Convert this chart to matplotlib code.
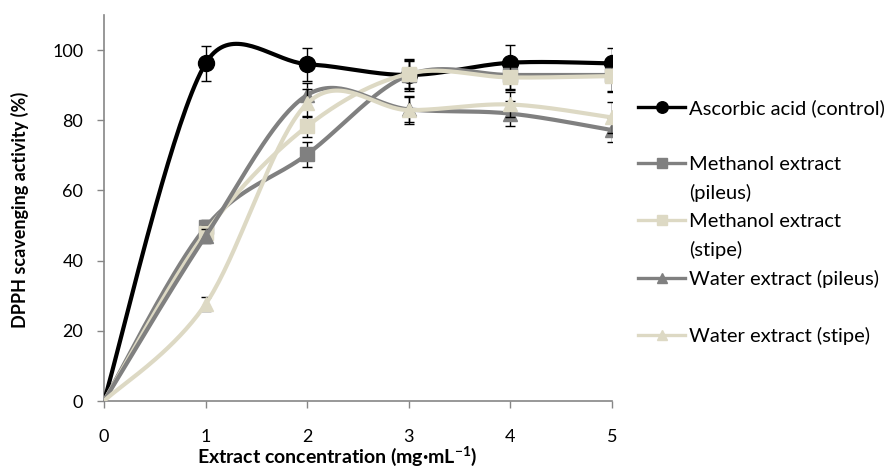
import numpy as np
import matplotlib
matplotlib.use("Agg")
import matplotlib.pyplot as plt
from matplotlib.lines import Line2D

plt.rcParams['font.family'] = ['Lato', 'DejaVu Sans']
plt.rcParams['mathtext.fontset'] = 'custom'
plt.rcParams['mathtext.rm'] = 'Lato'
plt.rcParams['mathtext.bf'] = 'Lato:bold'

# ---------------- data ----------------
conc = [0, 1, 2, 3, 4, 5]
ascorbic = [0, 96.2, 96.0, 92.9, 96.4, 96.2]
meoh_pileus = [0, 49.5, 70.3, 92.9, 92.9, 92.9]
meoh_stipe = [0, 48.0, 78.3, 93.3, 92.2, 92.6]
water_pileus = [0, 47.0, 87.2, 83.1, 81.9, 77.2]
water_stipe = [0, 27.6, 84.8, 82.9, 84.5, 80.8]

err_ascorbic = [0, 5.0, 4.7, 4.5, 5.0, 4.5]
err_meoh_pileus = [0, 2.0, 3.5, 4.0, 4.0, 4.5]
err_meoh_stipe = [0, 2.0, 3.0, 4.0, 3.5, 4.5]
err_water_pileus = [0, 2.0, 3.5, 3.5, 3.5, 3.5]
err_water_stipe = [0, 2.0, 4.0, 4.0, 3.5, 4.5]

labels = ['Ascorbic acid (control)', 'Methanol extract\n(pileus)',
          'Methanol extract\n(stipe)', 'Water extract (pileus)',
          'Water extract (stipe)']
x_ticks = [0, 1, 2, 3, 4, 5]
y_ticks = [0, 20, 40, 60, 80, 100]

GRAY = '#808080'
BEIGE = '#DDD9C4'
series = [
    (ascorbic, err_ascorbic, 'black', 'o', 11.5),
    (meoh_pileus, err_meoh_pileus, GRAY, 's', 10),
    (meoh_stipe, err_meoh_stipe, BEIGE, 's', 10),
    (water_pileus, err_water_pileus, GRAY, '^', 10.5),
    (water_stipe, err_water_stipe, BEIGE, '^', 10.5),
]


def smooth(ax, xs, ys, n=40):
    """Excel-like smoothed line: Bezier with Catmull-Rom arms, limited to half
    the segment length in screen space."""
    P = ax.transData.transform(np.column_stack([xs, ys]).astype(float))
    out = []
    t = np.linspace(0, 1, n)[:, None]
    for i in range(len(P) - 1):
        p0 = P[i - 1] if i > 0 else P[i]
        p1 = P[i]
        p2 = P[i + 1]
        p3 = P[i + 2] if i + 2 < len(P) else P[i + 1]
        d12 = np.linalg.norm(p2 - p1)
        a1 = (p2 - p0) / 6.0
        a2 = (p3 - p1) / 6.0
        for a in (a1, a2):
            la = np.linalg.norm(a)
            if la > d12 / 2 and la > 0:
                a *= (d12 / 2) / la
        c1 = p1 + a1
        c2 = p2 - a2
        seg = ((1 - t) ** 3) * p1 + 3 * ((1 - t) ** 2) * t * c1 + 3 * (1 - t) * t ** 2 * c2 + t ** 3 * p2
        out.append(seg if i == 0 else seg[1:])
    out = ax.transData.inverted().transform(np.vstack(out))
    return out[:, 0], out[:, 1]


fig = plt.figure(figsize=(8.87, 4.71), dpi=100)
ax = fig.add_axes([104 / 887, 70 / 471, 508 / 887, 386 / 471])
ax.set_xlim(0, 5)
ax.set_ylim(0, 110)

handles = []
for k, (ys, es, col, mk, ms) in enumerate(series):
    z = 3 + k
    ax.errorbar(conc[1:], ys[1:], yerr=es[1:], fmt='none', ecolor='black',
                elinewidth=1.0, capsize=3.8, capthick=1.0, zorder=z)
    sx, sy = smooth(ax, conc, ys)
    ax.plot(sx, sy, color=col, lw=3.0, zorder=z + 0.1, solid_capstyle='round')
    ax.plot(conc[1:], ys[1:], linestyle='none', marker=mk, ms=ms, color=col,
            markeredgecolor=col, zorder=z + 0.2)
    handles.append(Line2D([], [], color=col, lw=2.4, marker=mk, ms=ms * 0.72,
                          markeredgecolor=col))

ax.set_xticks(x_ticks)
ax.set_yticks(y_ticks)
ax.tick_params(axis='both', direction='out', length=5, width=1.0,
               color='#868686', labelsize=13, labelcolor='black')
ax.tick_params(axis='y', pad=10)
ax.tick_params(axis='x', pad=15)
for s in ['top', 'right']:
    ax.spines[s].set_visible(False)
for s in ['left', 'bottom']:
    ax.spines[s].set_color('#868686')
    ax.spines[s].set_linewidth(1.2)

ax.set_xlabel('Extract concentration (mg·mL$^{\\mathbf{-1}}$)', fontsize=14,
              fontweight='bold', va='center')
ax.xaxis.set_label_coords((337 - 104) / 508, (401 - 456) / 386)
ax.set_ylabel('DPPH scavenging activity (%)', fontsize=13, fontweight='bold',
              va='center')
ax.yaxis.set_label_coords((20 - 104) / 508, (401 - 210) / 386)

# legend rows: each label split into lines, blank rows get empty handles
leg_handles, leg_labels = [], []
rows_per_entry = [2, 2, 2, 2, 1]
for h, lab, nrows in zip(handles, labels, rows_per_entry):
    parts = lab.split('\n')
    leg_handles.append(h)
    leg_labels.append(parts[0])
    for j in range(1, nrows):
        leg_handles.append(Line2D([], [], linestyle='none'))
        leg_labels.append(parts[j] if j < len(parts) else ' ')

fig.legend(leg_handles, leg_labels, loc='upper left',
           bbox_to_anchor=(638 / 887, 1 - 99 / 471), frameon=False,
           fontsize=14.5, handlelength=2.35, handletextpad=0.2,
           labelspacing=0.545, borderpad=0, borderaxespad=0)

fig.savefig('out.png', dpi=100)
